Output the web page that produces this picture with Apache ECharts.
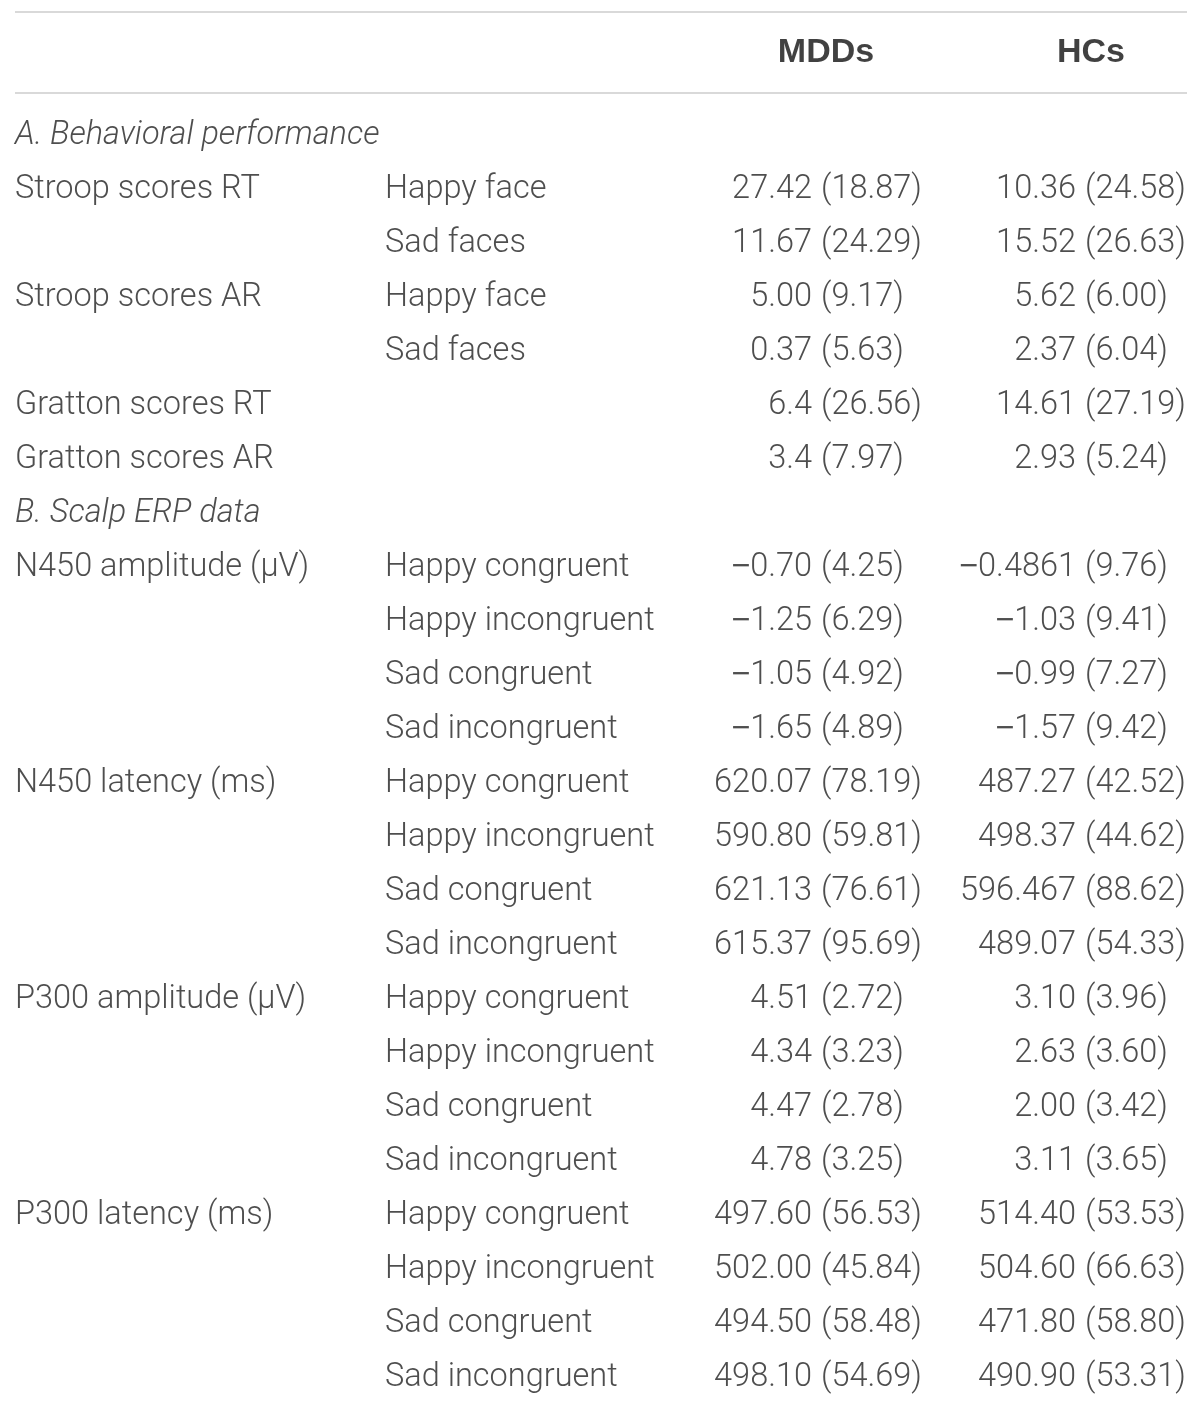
<!DOCTYPE html>
<html>
<head>
<meta charset="utf-8">
<script src="https://cdn.jsdelivr.net/npm/echarts@6/dist/echarts.min.js"></script>
<style>
  html, body { margin: 0; padding: 0; background: #fff; }
  #main { width: 1200px; height: 1405px; }
</style>
</head>
<body>
<div id="main"></div>
<script>
// table content
const groups = ["MDDs", "HCs"];
const sections = ["A. Behavioral performance", "B. Scalp ERP data"];
const sectionRows = [0, 7];

const measures = [
  "Stroop scores RT", "", "Stroop scores AR", "", "Gratton scores RT", "Gratton scores AR",
  "N450 amplitude (\u03bcV)", "", "", "",
  "N450 latency (ms)", "", "", "",
  "P300 amplitude (\u03bcV)", "", "", "",
  "P300 latency (ms)", "", "", ""
];
const conditions = [
  "Happy face", "Sad faces", "Happy face", "Sad faces", "", "",
  "Happy congruent", "Happy incongruent", "Sad congruent", "Sad incongruent",
  "Happy congruent", "Happy incongruent", "Sad congruent", "Sad incongruent",
  "Happy congruent", "Happy incongruent", "Sad congruent", "Sad incongruent",
  "Happy congruent", "Happy incongruent", "Sad congruent", "Sad incongruent"
];
const mddMean = ["27.42", "11.67", "5.00", "0.37", "6.4", "3.4",
  "\u22120.70", "\u22121.25", "\u22121.05", "\u22121.65",
  "620.07", "590.80", "621.13", "615.37",
  "4.51", "4.34", "4.47", "4.78",
  "497.60", "502.00", "494.50", "498.10"];
const mddSd = ["18.87", "24.29", "9.17", "5.63", "26.56", "7.97",
  "4.25", "6.29", "4.92", "4.89",
  "78.19", "59.81", "76.61", "95.69",
  "2.72", "3.23", "2.78", "3.25",
  "56.53", "45.84", "58.48", "54.69"];
const hcMean = ["10.36", "15.52", "5.62", "2.37", "14.61", "2.93",
  "\u22120.4861", "\u22121.03", "\u22120.99", "\u22121.57",
  "487.27", "498.37", "596.467", "489.07",
  "3.10", "2.63", "2.00", "3.11",
  "514.40", "504.60", "471.80", "490.90"];
const hcSd = ["24.58", "26.63", "6.00", "6.04", "27.19", "5.24",
  "9.76", "9.41", "7.27", "9.42",
  "42.52", "44.62", "88.62", "54.33",
  "3.96", "3.60", "3.42", "3.65",
  "53.53", "66.63", "58.80", "53.31"];

// layout
const FONT = "Roboto, 'Liberation Sans', sans-serif";
const FONT_SIZE = 32.5;
const TEXT_COLOR = "#222222";
const HEADER_Y = 53;
const ROW0 = 135.5, ROW_H = 54;
const X_MEASURE = 15, X_COND = 385;
const X_MDD_MEAN = 812, X_MDD_SD = 821, X_MDD_HEAD = 826;
const X_HC_MEAN = 1076, X_HC_SD = 1085, X_HC_HEAD = 1091;

const rowY = (r) => ROW0 + ROW_H * r;
const tableRow = (j) => (j < 6 ? j + 1 : j + 2);

// the minus sign is drawn in a wider face, like the original typesetting
const fmtText = (t) => t.charAt(0) === "\u2212" ? "{m|\u2212}" + t.slice(1) : t;

function textSeries(items, align, extra) {
  return {
    type: "scatter",
    symbolSize: 1,
    silent: true,
    itemStyle: { color: "transparent" },
    data: items.map((it) => ({ value: [it.x, it.y], name: it.text })),
    label: Object.assign({
      show: true,
      position: "inside",
      formatter: (p) => fmtText(p.name),
      align: align,
      verticalAlign: "middle",
      fontFamily: FONT,
      fontSize: FONT_SIZE,
      fontWeight: 300,
      color: TEXT_COLOR,
      rich: {
        m: {
          fontFamily: "'Liberation Sans', sans-serif",
          fontSize: FONT_SIZE,
          color: TEXT_COLOR,
          verticalAlign: "middle"
        }
      }
    }, extra || {})
  };
}

const colItems = (arr, x, wrap) =>
  arr.map((t, j) => ({ x: x, y: rowY(tableRow(j)), text: wrap ? "(" + t + ")" : t }))
     .filter((it) => it.text !== "");

var chart = echarts.init(document.getElementById("main"));

var option = {
  animation: false,
  grid: { left: 0, right: 0, top: 0, bottom: 0 },
  xAxis: { type: "value", min: 0, max: 1200, show: false },
  yAxis: { type: "value", min: 0, max: 1405, inverse: true, show: false },
  series: [
    // header
    textSeries([
      { x: X_MDD_HEAD, y: HEADER_Y, text: groups[0] },
      { x: X_HC_HEAD, y: HEADER_Y, text: groups[1] }
    ], "center", { fontWeight: "bold", fontFamily: "'Liberation Sans', Roboto, sans-serif", fontSize: 34, color: "#111111" }),
    // section titles
    textSeries(sections.map((s, i) => ({ x: X_MEASURE, y: rowY(sectionRows[i]), text: s })),
      "left", { fontStyle: "italic" }),
    textSeries(colItems(measures, X_MEASURE), "left"),
    textSeries(colItems(conditions, X_COND), "left"),
    textSeries(colItems(mddMean, X_MDD_MEAN), "right"),
    textSeries(colItems(mddSd, X_MDD_SD, true), "left"),
    textSeries(colItems(hcMean, X_HC_MEAN), "right"),
    textSeries(colItems(hcSd, X_HC_SD, true), "left"),
    // rules
    {
      type: "line",
      data: [],
      silent: true,
      markLine: {
        symbol: "none",
        silent: true,
        label: { show: false },
        lineStyle: { color: "#cccccc", width: 1.5, type: "solid" },
        data: [
          [{ coord: [15, 12] }, { coord: [1187, 12] }],
          [{ coord: [15, 93] }, { coord: [1187, 93] }]
        ]
      }
    }
  ]
};

chart.setOption(option);
</script>
</body>
</html>
